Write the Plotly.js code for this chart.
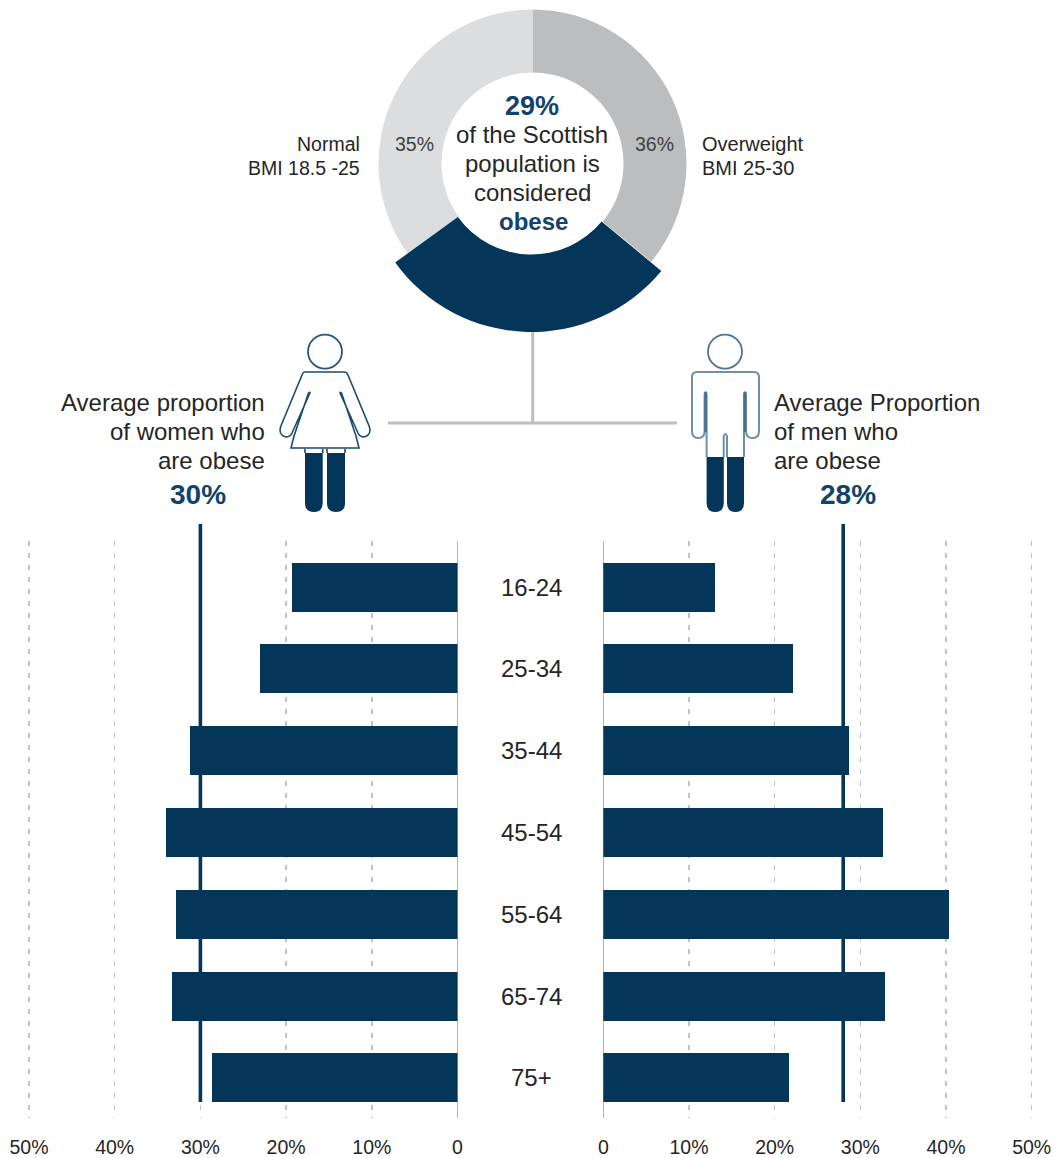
<!DOCTYPE html>
<html>
<head>
<meta charset="utf-8">
<script src="https://cdn.plot.ly/plotly-3.0.1.min.js"></script>
<style>
  html, body { margin: 0; padding: 0; background: #fff; overflow: hidden; width: 1056px; height: 1158px; }
  /* the plot is slightly taller than the page so the wider donut ring fits its domain */
  #chart { position: absolute; left: 0; top: -10px; }
</style>
</head>
<body>
<div id="chart"></div>
<script>
// Population split by BMI band
const bmiLabels = ['Overweight', 'Obese', 'Normal'];
const bmiShares = [36, 29, 35];

// Obesity rate by age group, percent
const ageGroups = ['16-24', '25-34', '35-44', '45-54', '55-64', '65-74', '75+'];
const womenObese = [19.3, 23.1, 31.2, 34.0, 32.9, 33.3, 28.7];
const menObese = [13.0, 22.1, 28.7, 32.6, 40.3, 32.9, 21.7];
const womenAverage = 30;
const menAverage = 28;

const womenTickVals = [50, 40, 30, 20, 10, 0];
const womenTickText = ['50%', '40%', '30%', '20%', '10%', '0'];
const menTickVals = [0, 10, 20, 30, 40, 50];
const menTickText = ['0', '10%', '20%', '30%', '40%', '50%'];

const NAVY = '#04365a';
const TITLE_BLUE = '#11436b';
const INK = '#262626';
const RULE = '#bcbec0';
const FONT = '"Liberation Sans", Arial, sans-serif';

const W = 1056, OFFSET = 10, H = 1158 + OFFSET;
const fx = px => px / W;
const fy = py => 1 - (py + OFFSET) / H;

// Donut geometry on the page
const cy = 163.5, holeR = 91, grayR = 154, navyR = 168.5;
const pieDomain = (cx, r) => ({ x: [fx(cx - r), fx(cx + r)], y: [fy(cy + r), fy(cy - r)] });

const hidden = 'rgba(0,0,0,0)';
const pieBase = {
  type: 'pie', values: bmiShares, labels: bmiLabels, sort: false, direction: 'clockwise',
  rotation: 0, textinfo: 'none', hoverinfo: 'skip', showlegend: false
};

const ageIndex = ageGroups.map((_, i) => i);
const barBase = { type: 'bar', orientation: 'h', y: ageIndex, width: 0.6, hoverinfo: 'skip',
  marker: { color: NAVY, line: { width: 0 } }, showlegend: false };

const traces = [
  Object.assign({}, pieBase, { domain: pieDomain(532.5, grayR), hole: holeR / grayR,
    marker: { colors: ['#bcbdbf', hidden, '#dcddde'], line: { width: 0 } } }),
  Object.assign({}, pieBase, { domain: pieDomain(531.5, navyR), hole: holeR / navyR,
    marker: { colors: [hidden, NAVY, hidden], line: { width: 0 } } }),
  Object.assign({}, barBase, { x: womenObese, xaxis: 'x', yaxis: 'y' }),
  Object.assign({}, barBase, { x: menObese, xaxis: 'x2', yaxis: 'y2' })
];

// The axes run slightly past 50 so the outermost gridline is kept
const valueAxis = (domain, range, vals, text, anchor) => ({
  domain: domain.map(fx), range, anchor, tickmode: 'array', tickvals: vals, ticktext: text,
  showgrid: true, gridcolor: '#c2c2c2', gridwidth: 1.5, griddash: '5px,7px',
  zeroline: true, zerolinecolor: '#b4b4b4', zerolinewidth: 1.4, showline: false,
  ticks: '', ticklabelstandoff: 15, tickfont: { family: FONT, size: 19.5, color: INK }, fixedrange: true
});
const ageAxis = anchor => ({
  domain: [fy(1118), fy(541)], range: [6.49, -0.563], anchor,
  showgrid: false, zeroline: false, showline: false, showticklabels: false, ticks: '', fixedrange: true
});

// Free text, placed in page pixels through the hidden x3/y3 axes
const label = (text, x, y, size, anchor, color, bold) => ({
  text: bold ? '<b>' + text + '</b>' : text, x, y, xref: 'x3', yref: 'y3',
  xanchor: anchor, yanchor: 'middle', showarrow: false,
  font: { family: FONT, size, color }
});

const annotations = [
  label('29%', 532, 106, 27, 'center', TITLE_BLUE, true),
  label('of the Scottish', 532, 134, 24, 'center', INK),
  label('population is', 532, 163, 24, 'center', INK),
  label('considered', 532, 192, 24, 'center', INK),
  label('obese', 533, 221, 24, 'center', TITLE_BLUE, true),
  label('35%', 414, 143.5, 19.5, 'center', '#404040'),
  label('36%', 654, 143.5, 19.5, 'center', '#404040'),
  label('Normal', 362, 143.5, 19.5, 'right', INK),
  label('BMI 18.5 -25', 362, 167.5, 19.5, 'right', INK),
  label('Overweight', 700, 143.5, 20, 'left', INK),
  label('BMI 25-30', 700, 167.5, 20, 'left', INK),
  label('Average proportion', 267, 402, 24, 'right', INK),
  label('of women who', 267, 431, 24, 'right', INK),
  label('are obese', 267, 460, 24, 'right', INK),
  label(womenAverage + '%', 198, 494, 28, 'center', TITLE_BLUE, true),
  label('Average Proportion', 772, 402, 24, 'left', INK),
  label('of men who', 772, 431, 24, 'left', INK),
  label('are obese', 772, 460, 24, 'left', INK),
  label(menAverage + '%', 848, 494, 28, 'center', TITLE_BLUE, true)
].concat(ageGroups.map((g, i) => ({
  text: g, x: 531, y: i, xref: 'x3', yref: 'y', xanchor: 'center', yanchor: 'middle', showarrow: false,
  font: { family: FONT, size: 24, color: INK }
})));

const pagePath = (path, style) => Object.assign({ type: 'path', path, xref: 'x3', yref: 'y3', layer: 'above' }, style);
const circle = (x, y, r, color) => ({ type: 'circle', xref: 'x3', yref: 'y3', layer: 'above',
  x0: x - r, x1: x + r, y0: y - r, y1: y + r, line: { color, width: 1.8 }, fillcolor: 'rgba(0,0,0,0)' });
const OUTLINE_W = { line: { color: '#1d4a6e', width: 1.6 }, fillcolor: 'rgba(0,0,0,0)' };
const OUTLINE_M = { line: { color: '#6f8fa8', width: 2 }, fillcolor: 'rgba(0,0,0,0)' };
const SLIT_M = { line: { color: '#47708f', width: 2.6 }, fillcolor: 'rgba(0,0,0,0)' };
const SOLID = { line: { width: 0 }, fillcolor: NAVY };

const shapes = [
  // connector between the donut and the two figures
  { type: 'line', xref: 'x3', yref: 'y3', x0: 532.7, x1: 532.7, y0: 332, y1: 423, line: { color: RULE, width: 3 } },
  { type: 'line', xref: 'x3', yref: 'y3', x0: 388, x1: 677, y0: 423, y1: 423, line: { color: RULE, width: 3 } },

  // average markers on each age chart
  { type: 'line', xref: 'x', yref: 'y3', x0: womenAverage, x1: womenAverage, y0: 524, y1: 1102, line: { color: NAVY, width: 3.6 }, layer: 'above' },
  { type: 'line', xref: 'x2', yref: 'y3', x0: menAverage, x1: menAverage, y0: 524, y1: 1102, line: { color: NAVY, width: 3.6 }, layer: 'above' },

  // woman figure
  circle(325, 351.7, 17, '#2a5577'),
  pagePath('M305,372 L344,372 Q347,372 348,375 L369.5,427 Q371.5,434 365.5,436.5 Q360.5,438 358,433 L340.5,394 Q339,391 341.5,393 L356,436 L359,448 L291,448 L294,436 L308.5,393 Q311,391 309.5,394 L292,433 Q289.5,438 284.5,436.5 Q278.5,434 280.5,427 L302,375 Q303,372 305,372 Z', OUTLINE_W),
  pagePath('M305,449 L305,453 M322.7,449 L322.7,453 M327,449 L327,453 M345,449 L345,453', OUTLINE_W),
  pagePath('M305,453 L322.7,453 L322.7,503 Q322.7,512 314,512 Q305,512 305,503 Z', SOLID),
  pagePath('M327,453 L345,453 L345,503 Q345,512 336,512 Q327,512 327,503 Z', SOLID),

  // man figure
  circle(725, 351.7, 17, '#4d7491'),
  pagePath('M744,457 L744,394 Q745,390 746,394 L746,431 Q746,438 752.5,438 Q759,438 759,431 L759,377 Q759,372 754,372 L697,372 Q692,372 692,377 L692,431 Q692,438 698.3,438 Q704.6,438 704.6,431 L704.6,394 Q705.6,390 706.6,394 L706.6,457', OUTLINE_M),
  pagePath('M705.6,392 L705.6,432 M745,392 L745,432', SLIT_M),
  pagePath('M723.7,457 L723.7,436 Q725.3,432 727,436 L727,457', OUTLINE_M),
  pagePath('M706.6,457 L723.8,457 L723.8,503 Q723.8,512 715.2,512 Q706.6,512 706.6,503 Z', SOLID),
  pagePath('M727,457 L744,457 L744,503 Q744,512 735.5,512 Q727,512 727,503 Z', SOLID)
];

const pxPerUnit = 428.5 / 50;
const margin = 5 / pxPerUnit;

const layout = {
  width: W, height: H, margin: { l: 0, r: 0, t: 0, b: 0, pad: 0 },
  paper_bgcolor: '#ffffff', plot_bgcolor: 'rgba(0,0,0,0)', showlegend: false, hovermode: false,
  bargap: 0,
  xaxis: valueAxis([24, 457.5], [50 + margin, 0], womenTickVals, womenTickText, 'y'),
  yaxis: ageAxis('x'),
  xaxis2: valueAxis([603.3, 1036.7], [0, 50 + margin], menTickVals, menTickText, 'y2'),
  yaxis2: ageAxis('x2'),
  xaxis3: { domain: [0, 1], range: [0, W], visible: false, anchor: 'y3', fixedrange: true },
  yaxis3: { domain: [0, 1], range: [1158, -OFFSET], visible: false, anchor: 'x3', fixedrange: true },
  annotations, shapes
};

Plotly.newPlot('chart', traces, layout, { displayModeBar: false, staticPlot: true });
</script>
</body>
</html>
